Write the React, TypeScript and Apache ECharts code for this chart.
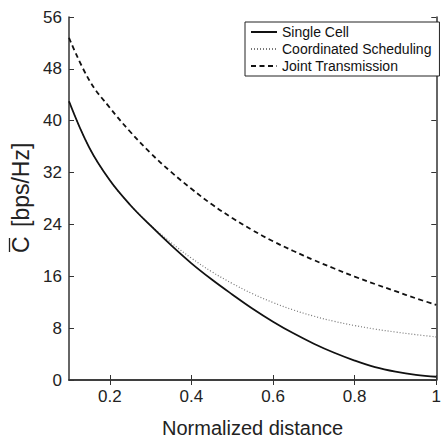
import { useEffect, useRef } from "react";
import * as echarts from "echarts";

// Normalized distance samples
const distance = [0.1, 0.15, 0.2, 0.25, 0.3, 0.35, 0.4, 0.45, 0.5, 0.55, 0.6, 0.65, 0.7, 0.75, 0.8, 0.85, 0.9, 0.95, 1.0];

// Average capacity in bps/Hz for each scheme
const singleCell = [43.0, 35.8, 30.8, 27.0, 23.8, 20.8, 18.0, 15.5, 13.2, 11.0, 9.0, 7.2, 5.6, 4.2, 3.0, 2.0, 1.3, 0.8, 0.5];
const coordinatedScheduling = [43.0, 35.8, 30.8, 27.0, 23.9, 21.2, 18.8, 16.7, 14.9, 13.3, 11.95, 10.8, 9.85, 9.05, 8.4, 7.85, 7.4, 7.0, 6.65];
const jointTransmission = [52.8, 46.2, 42.0, 38.3, 35.0, 32.1, 29.5, 27.1, 25.0, 23.1, 21.4, 19.9, 18.5, 17.2, 15.95, 14.8, 13.7, 12.6, 11.6];

const xTicks = [0.2, 0.4, 0.6, 0.8, 1];
const seriesNames = ["Single Cell", "Coordinated Scheduling", "Joint Transmission"];

const FONT = "'Liberation Sans', Arial, Helvetica, sans-serif";
const INK = "#222";

export default function App() {
  const ref = useRef<HTMLDivElement>(null);

  useEffect(() => {
    if (!ref.current) return;
    const chart = echarts.init(ref.current, undefined, { renderer: "svg" });

    const pairs = (ys: number[]) => distance.map((x, i) => [x, ys[i]]);

    const axisLine = { show: true, lineStyle: { color: "#333", width: 1.5 } };
    const tickStyle = { inside: true, length: 5, lineStyle: { color: "#333", width: 1 } };

    chart.setOption({
      animation: false,
      backgroundColor: "#fff",
      grid: { left: 69, right: 3, top: 17, bottom: 53, containLabel: false },
      legend: {
        orient: "vertical",
        left: 245,
        top: 22,
        padding: [3, 8, 3, 5],
        itemWidth: 26,
        itemHeight: 14,
        itemGap: 3,
        backgroundColor: "#fff",
        borderColor: "#222",
        borderWidth: 1,
        borderRadius: 0,
        itemStyle: { opacity: 0 },
        textStyle: { fontFamily: FONT, fontSize: 14, color: "#111" },
        data: seriesNames,
      },
      xAxis: [
        {
          type: "value",
          min: 0.1,
          max: 1,
          name: "Normalized distance",
          nameLocation: "middle",
          nameGap: 38,
          nameTextStyle: { fontFamily: FONT, fontSize: 20, color: INK },
          axisLine,
          axisTick: { ...tickStyle, customValues: xTicks },
          axisLabel: {
            customValues: xTicks,
            margin: 8,
            fontFamily: FONT,
            fontSize: 17,
            color: INK,
          },
          splitLine: { show: false },
        },
        {
          type: "value",
          position: "top",
          min: 0.1,
          max: 1,
          axisLine,
          axisTick: { ...tickStyle, customValues: xTicks },
          axisLabel: { show: false },
          splitLine: { show: false },
        },
      ],
      yAxis: [
        {
          type: "value",
          min: 0,
          max: 56,
          interval: 8,
          axisLine,
          axisTick: tickStyle,
          axisLabel: { margin: 7, fontFamily: FONT, fontSize: 17, color: INK },
          splitLine: { show: false },
        },
        {
          type: "value",
          position: "right",
          min: 0,
          max: 56,
          interval: 8,
          axisLine,
          axisTick: tickStyle,
          axisLabel: { show: false },
          splitLine: { show: false },
        },
      ],
      graphic: [
        {
          type: "group",
          x: 21,
          y: 193,
          rotation: Math.PI / 2,
          children: [
            {
              type: "text",
              x: -60,
              y: 0,
              style: {
                text: "C",
                font: `23px ${FONT}`,
                fill: INK,
                textAlign: "left",
                textVerticalAlign: "middle",
              },
            },
            {
              type: "line",
              shape: { x1: -59, y1: -11.5, x2: -45, y2: -11.5 },
              style: { stroke: INK, lineWidth: 1.3 },
            },
            {
              type: "text",
              x: -34,
              y: 0,
              style: {
                text: "[bps/Hz]",
                font: `23px ${FONT}`,
                fill: INK,
                textAlign: "left",
                textVerticalAlign: "middle",
              },
            },
          ],
        },
      ],
      series: [
        {
          name: seriesNames[0],
          type: "line",
          data: pairs(singleCell),
          smooth: 0.4,
          symbol: "none",
          lineStyle: { color: "#111", width: 1.8, type: "solid" },
          itemStyle: { color: "#111" },
          z: 3,
        },
        {
          name: seriesNames[1],
          type: "line",
          data: pairs(coordinatedScheduling),
          smooth: 0.4,
          symbol: "none",
          lineStyle: { color: "#777", width: 1.2, type: [1, 2] },
          itemStyle: { color: "#777" },
          z: 2,
        },
        {
          name: seriesNames[2],
          type: "line",
          data: pairs(jointTransmission),
          smooth: 0.4,
          symbol: "none",
          lineStyle: { color: "#111", width: 1.8, type: [5, 3.5] },
          itemStyle: { color: "#111" },
          z: 3,
        },
      ],
    });

    return () => chart.dispose();
  }, []);

  return (
    <div
      ref={ref}
      style={{ position: "absolute", left: 0, top: 0, width: 444, height: 443 }}
    />
  );
}
